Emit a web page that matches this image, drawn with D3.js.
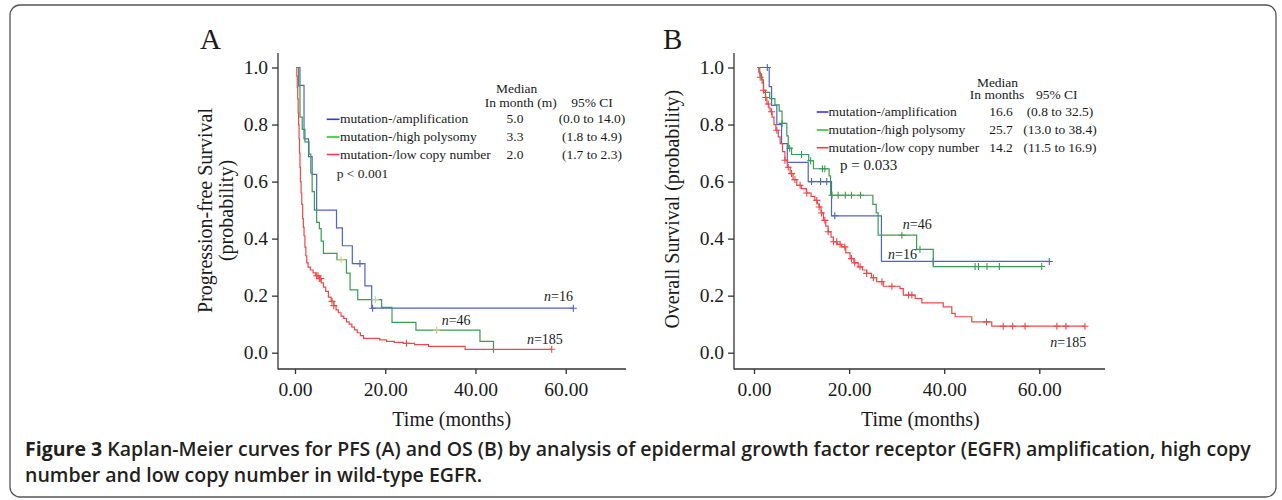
<!DOCTYPE html>
<html>
<head>
<meta charset="utf-8">
<script src="https://cdn.jsdelivr.net/npm/d3@7"></script>
<style>
  body { margin: 0; background: #fff; }
  svg { display: block; }
  .serif { font-family: "Liberation Serif", "Times New Roman", serif; fill: #1a1a1a; }
</style>
</head>
<body>
<svg id="chart" width="1282" height="500"></svg>
<script>
// ---- data ----
const yTicks = [0, 0.2, 0.4, 0.6, 0.8, 1.0];
const xTicks = [0, 20, 40, 60];
const groupNames = ["mutation-/amplification", "mutation-/high polysomy", "mutation-/low copy number"];
const curveColors = ["#4f63cc", "#3a9d52", "#ef4848"];
const legendColors = ["#3535ee", "#2bc43c", "#fb3a4a"];

const pfsMedian = ["5.0", "3.3", "2.0"];
const pfsCI = ["(0.0 to 14.0)", "(1.8 to 4.9)", "(1.7 to 2.3)"];
const osMedian = ["16.6", "25.7", "14.2"];
const osCI = ["(0.8 to 32.5)", "(13.0 to 38.4)", "(11.5 to 16.9)"];

// PFS (panel A): [months, survival]
const pfsAmp = [[0.3, 1], [1.1, 0.9375], [2.0, 0.75], [3.0, 0.6875], [3.8, 0.625], [4.8, 0.5],
  [9.2, 0.4375], [10.5, 0.375], [12.7, 0.3125], [15.5, 0.234], [17.0, 0.156]];
const pfsAmpEnd = 61.7;
const pfsAmpCensor = [14.4, 17.2, 61.7];

const pfsHigh = [[0.3, 1], [0.8, 0.935], [1.1, 0.826], [1.6, 0.783], [2.2, 0.739], [3.1, 0.696],
  [3.5, 0.63], [3.8, 0.565], [4.3, 0.5], [4.8, 0.457], [5.4, 0.435], [5.8, 0.391], [6.3, 0.348],
  [9.3, 0.326], [11.4, 0.279], [12.2, 0.22], [13.9, 0.186], [19.2, 0.159], [21.5, 0.106],
  [26.8, 0.079], [41.0, 0.040], [44.0, 0.0]];
const pfsHighEnd = 44.0;
const pfsHighCensor = [10.2, 17.8, 31.4];

const pfsLow = [[0.3, 1], [0.4, 0.97], [0.5, 0.93], [0.6, 0.89], [0.7, 0.84], [0.8, 0.80],
  [0.9, 0.75], [1.0, 0.70], [1.1, 0.65], [1.2, 0.60], [1.35, 0.56], [1.5, 0.52], [1.7, 0.47],
  [1.85, 0.44], [2.0, 0.41], [2.2, 0.37], [2.4, 0.34], [2.6, 0.315], [2.9, 0.30], [3.4, 0.29],
  [4.0, 0.28], [4.6, 0.27], [5.3, 0.26], [5.8, 0.245], [6.3, 0.23], [6.8, 0.215], [7.4, 0.195],
  [8.0, 0.18], [8.6, 0.165], [9.1, 0.15], [9.6, 0.14], [10.2, 0.128], [10.8, 0.12],
  [11.4, 0.108], [12.0, 0.10], [12.6, 0.09], [13.2, 0.08], [13.8, 0.07], [14.5, 0.06],
  [15.2, 0.05], [18.8, 0.045], [20.3, 0.04], [22.0, 0.036], [24.0, 0.033], [26.5, 0.028],
  [29.6, 0.022], [37.7, 0.012]];
const pfsLowEnd = 56.9;
const pfsLowCensor = [4.8, 5.1, 5.4, 5.7, 8.2, 8.6, 24.7, 56.9];

// OS (panel B)
const osAmp = [[0.7, 1], [3.2, 0.933], [3.7, 0.867], [4.8, 0.80], [5.8, 0.733], [7.0, 0.667],
  [11.4, 0.60], [16.3, 0.48], [26.8, 0.32]];
const osAmpEnd = 62.1;
const osAmpCensor = [2.8, 12.1, 14.0, 15.3, 17.0, 37.7, 62.1];

const osHigh = [[0.9, 1], [1.2, 0.978], [1.6, 0.957], [2.0, 0.913], [3.3, 0.891], [4.4, 0.869],
  [5.3, 0.847], [5.9, 0.804], [6.9, 0.760], [7.2, 0.717], [7.9, 0.695], [11.5, 0.673],
  [12.5, 0.645], [15.8, 0.62], [16.1, 0.552], [25.0, 0.52], [25.7, 0.49], [26.1, 0.412],
  [34.2, 0.362], [37.7, 0.302]];
const osHighEnd = 60.5;
const osHighCensor = [5.9, 7.5, 10.0, 11.9, 14.4, 14.9, 16.4, 17.7, 19.2, 20.5, 22.4, 31.1,
  34.9, 46.5, 47.2, 49.0, 51.6, 60.5];

const osLow = [[0.7, 1.0], [1.0, 0.984], [1.3, 0.966], [1.7, 0.945], [2.0, 0.92], [2.4, 0.895],
  [2.7, 0.872], [3.1, 0.858], [3.4, 0.845], [3.8, 0.826], [4.2, 0.80], [4.6, 0.78], [5.1, 0.757],
  [5.5, 0.733], [6.0, 0.705], [6.5, 0.675], [7.0, 0.65], [7.6, 0.628], [8.2, 0.607], [9.0, 0.587],
  [10.0, 0.575], [11.0, 0.56], [12.0, 0.548], [12.8, 0.534], [13.3, 0.522], [13.7, 0.511],
  [14.1, 0.49], [14.6, 0.464], [15.1, 0.444], [15.6, 0.424], [16.2, 0.405], [16.7, 0.389],
  [17.5, 0.38], [18.4, 0.371], [19.3, 0.35], [20.2, 0.33], [21.0, 0.315], [21.9, 0.301],
  [22.8, 0.29], [23.7, 0.278], [24.7, 0.263], [25.8, 0.249], [27.2, 0.233], [30.7, 0.225],
  [31.4, 0.202], [33.9, 0.19], [35.3, 0.175], [39.8, 0.161], [41.6, 0.138], [42.3, 0.126],
  [45.8, 0.108], [50.0, 0.093]];
const osLowEnd = 69.6;
const osLowCensor = [1.3, 2.0, 2.45, 3.0, 3.7, 4.8, 6.5, 7.2, 7.9, 8.6, 9.7, 11.1, 13.2, 13.7,
  14.2, 14.9, 15.6, 16.7, 17.4, 18.1, 19.1, 20.5, 21.2, 22.3, 23.7, 25.1, 26.9, 29.0, 32.5,
  33.2, 48.9, 52.4, 54.4, 57.0, 63.7, 65.6, 69.6];

// ---- drawing ----
const svg = d3.select("#chart");

// figure frame
svg.append("rect")
  .attr("x", 10).attr("y", 5)
  .attr("width", 1266).attr("height", 492)
  .attr("rx", 10).attr("ry", 10)
  .attr("fill", "none")
  .attr("stroke", "#555")
  .attr("stroke-width", 1.3);

const panels = [
  {
    letter: "A", letterX: 200,
    xRange: [295, 565.7], axisX: 278, axisRight: 626,
    yTitle: ["Progression-free Survival", "(probability)"], yTitleX: [211.5, 232.5], yTitleY: 210.5,
    xTitleX: 451.7,
    series: [
      { steps: pfsAmp, end: pfsAmpEnd, censor: pfsAmpCensor, color: curveColors[0], censorColor: curveColors[0] },
      { steps: pfsHigh, end: pfsHighEnd, censor: pfsHighCensor, color: curveColors[1], censorColor: "#d5c98c" },
      { steps: pfsLow, end: pfsLowEnd, censor: pfsLowCensor, color: curveColors[2], censorColor: curveColors[2] }
    ],
    nLabels: [
      { n: "16", t: 61.6, s: 0.181, anchor: "end" },
      { n: "46", t: 32.5, s: 0.097, anchor: "start" },
      { n: "185", t: 51.4, s: 0.031, anchor: "start" }
    ],
    legend: {
      lineX: [326.7, 339.5], textX: 340, rowY: [123.3, 141, 158.5],
      head1: "Median", head1X: 516.7, head1Y: 93,
      head2: "In month (m)", head2X: 520.7, head2Y: 106.7,
      ciHeadX: 592, medX: 515, ciX: 592,
      median: pfsMedian, ci: pfsCI,
      pText: "p < 0.001", pX: 336.7, pY: 178, pSize: 13.5
    }
  },
  {
    letter: "B", letterX: 663,
    xRange: [754, 1039.3], axisX: 734, axisRight: 1105,
    yTitle: ["Overall Survival (probability)"], yTitleX: [678.5], yTitleY: 209.2,
    xTitleX: 920.3,
    series: [
      { steps: osAmp, end: osAmpEnd, censor: osAmpCensor, color: curveColors[0], censorColor: curveColors[0] },
      { steps: osHigh, end: osHighEnd, censor: osHighCensor, color: curveColors[1], censorColor: curveColors[1] },
      { steps: osLow, end: osLowEnd, censor: osLowCensor, color: curveColors[2], censorColor: curveColors[2] }
    ],
    nLabels: [
      { n: "46", t: 31.3, s: 0.435, anchor: "start" },
      { n: "16", t: 28.2, s: 0.33, anchor: "start" },
      { n: "185", t: 62.3, s: 0.021, anchor: "start" }
    ],
    legend: {
      lineX: [816.7, 828.5], textX: 828.5, rowY: [116, 134, 151.7],
      head1: "Median", head1X: 997.5, head1Y: 86.7,
      head2: "In months", head2X: 997, head2Y: 99.3,
      ciHeadX: 1056.7, medX: 1001, ciX: 1060,
      median: osMedian, ci: osCI,
      pText: "p = 0.033", pX: 840, pY: 170, pSize: 15
    }
  }
];

function survAt(steps, t) {
  let s = steps[0][1];
  for (const d of steps) { if (d[0] <= t) s = d[1]; }
  return s;
}

panels.forEach(p => {
  const g = svg.append("g").attr("class", "serif");
  const x = d3.scaleLinear().domain([0, 60]).range(p.xRange);
  const y = d3.scaleLinear().domain([0, 1]).range([352.7, 67.5]);

  // panel letter
  g.append("text").attr("x", p.letterX).attr("y", 49)
    .attr("font-size", 29).text(p.letter);

  // axes
  const xAxis = g.append("g").attr("transform", "translate(0,369)")
    .call(d3.axisBottom(x).tickValues(xTicks).tickSize(5).tickPadding(8).tickFormat(d3.format(".2f")));
  const yAxis = g.append("g").attr("transform", `translate(${p.axisX},0)`)
    .call(d3.axisLeft(y).tickValues(yTicks).tickSize(6).tickPadding(4).tickFormat(d3.format(".1f")));
  [xAxis, yAxis].forEach(a => {
    a.select(".domain").remove();
    a.selectAll("line").attr("stroke", "#333").attr("stroke-width", 1.3);
    a.selectAll("text").attr("font-family", "Liberation Serif, serif")
      .attr("font-size", 19.5).attr("fill", "#1a1a1a");
  });
  g.append("line").attr("x1", p.axisX).attr("x2", p.axisX).attr("y1", 53).attr("y2", 369.6)
    .attr("stroke", "#333").attr("stroke-width", 1.3);
  g.append("line").attr("x1", p.axisX).attr("x2", p.axisRight).attr("y1", 369).attr("y2", 369)
    .attr("stroke", "#333").attr("stroke-width", 1.3);

  // axis titles
  g.append("text").attr("x", p.xTitleX).attr("y", 426)
    .attr("text-anchor", "middle").attr("font-size", 20).text("Time (months)");
  p.yTitle.forEach((t, i) => {
    g.append("text")
      .attr("transform", `translate(${p.yTitleX[i]},${p.yTitleY}) rotate(-90)`)
      .attr("text-anchor", "middle").attr("font-size", 20).text(t);
  });

  // curves
  const line = d3.line().x(d => x(d[0])).y(d => y(d[1])).curve(d3.curveStepAfter);
  p.series.forEach(s => {
    const pts = s.steps.concat([[s.end, s.steps[s.steps.length - 1][1]]]);
    g.append("path").attr("d", line(pts))
      .attr("fill", "none").attr("stroke", s.color).attr("stroke-width", 1.2);
    g.append("g").selectAll("path")
      .data(s.censor)
      .join("path")
      .attr("transform", d => `translate(${x(d)},${y(survAt(s.steps, d))})`)
      .attr("d", "M-3.5,0H3.5M0,-3.5V3.5")
      .attr("stroke", s.censorColor).attr("stroke-width", 1.1).attr("fill", "none");
  });

  // n labels
  p.nLabels.forEach(l => {
    const t = g.append("text").attr("x", x(l.t)).attr("y", y(l.s))
      .attr("text-anchor", l.anchor).attr("font-size", 14);
    t.append("tspan").attr("font-style", "italic").text("n");
    t.append("tspan").text("=" + l.n);
  });

  // legend table
  const L = p.legend;
  g.append("text").attr("x", L.head1X).attr("y", L.head1Y).attr("text-anchor", "middle")
    .attr("font-size", 13.5).text(L.head1);
  g.append("text").attr("x", L.head2X).attr("y", L.head2Y).attr("text-anchor", "middle")
    .attr("font-size", 13.5).text(L.head2);
  g.append("text").attr("x", L.ciHeadX).attr("y", L.head2Y).attr("text-anchor", "middle")
    .attr("font-size", 13.5).text("95% CI");
  groupNames.forEach((name, i) => {
    g.append("line").attr("x1", L.lineX[0]).attr("x2", L.lineX[1])
      .attr("y1", L.rowY[i] - 4).attr("y2", L.rowY[i] - 4)
      .attr("stroke", legendColors[i]).attr("stroke-width", 1.6);
    g.append("text").attr("x", L.textX).attr("y", L.rowY[i]).attr("font-size", 13.5).text(name);
    g.append("text").attr("x", L.medX).attr("y", L.rowY[i]).attr("text-anchor", "middle")
      .attr("font-size", 13.5).text(L.median[i]);
    g.append("text").attr("x", L.ciX).attr("y", L.rowY[i]).attr("text-anchor", "middle")
      .attr("font-size", 13.5).text(L.ci[i]);
  });
  g.append("text").attr("x", L.pX).attr("y", L.pY).attr("font-size", L.pSize).text(L.pText);
});

// caption
const capLines = [
  ["Figure 3", " Kaplan-Meier curves for PFS (A) and OS (B) by analysis of epidermal growth factor receptor (EGFR) amplification, high copy"],
  ["", "number and low copy number in wild-type EGFR."]
];
const capY = [455.5, 481.5];
const capTexts = capLines.map((c, i) => {
  const t = svg.append("text").attr("x", 25).attr("y", capY[i])
    .attr("font-family", "Open Sans, sans-serif").attr("font-size", 16).attr("fill", "#231f20");
  if (c[0]) t.append("tspan").attr("font-weight", 700).text(c[0]);
  t.append("tspan").attr("font-weight", 600).text(c[1]);
  return t;
});
// fit first caption line to its width in the reference
const natural = capTexts[0].node().getComputedTextLength();
const capSize = 16 * 1227 / natural;
capTexts.forEach(t => t.attr("font-size", capSize));
</script>
</body>
</html>
